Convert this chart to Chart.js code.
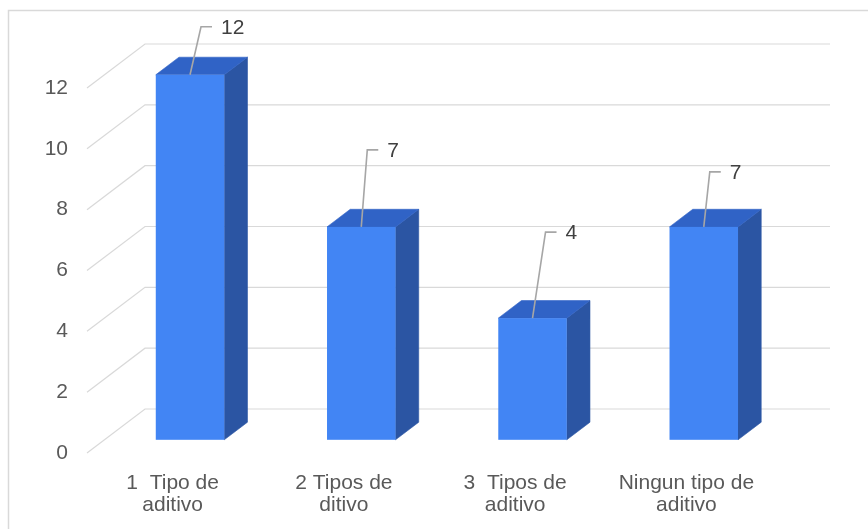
<!DOCTYPE html>
<html><head><meta charset="utf-8">
<script src="https://cdn.jsdelivr.net/npm/chart.js@4/dist/chart.umd.min.js"></script>
<style>html,body{margin:0;padding:0;background:#fff}canvas{display:block}</style>
</head><body><canvas id="c" width="868" height="529"></canvas>
<script>
const categories = [['1  Tipo de', 'aditivo'], ['2 Tipos de', 'ditivo'], ['3  Tipos de', 'aditivo'], ['Ningun tipo de', 'aditivo']];
const values = [12, 7, 4, 7];
const yTickStep = 2;
const yMax = 12;

const DEPTH = { x: 58, y: -44 };
const BAR_FRONT = 0.3, BAR_BACK = 0.7;
const calloutOffsets = [[11, -48], [6, -77], [13, -86], [6, -55]];
const FONT = 'Liberation Sans, Arial, sans-serif';

const plugin3d = {
  id: 'bar3d',
  beforeDraw(chart) {
    const ctx = chart.ctx;
    ctx.save();
    ctx.fillStyle = '#fff';
    ctx.fillRect(0, 0, chart.width, chart.height);
    ctx.strokeStyle = '#d9d9d9';
    ctx.lineWidth = 1.5;
    ctx.beginPath();
    ctx.moveTo(8.5, chart.height);
    ctx.lineTo(8.5, 10.5);
    ctx.lineTo(chart.width, 10.5);
    ctx.stroke();
    ctx.restore();
  },
  beforeDatasetsDraw(chart) {
    const { ctx, chartArea: a, scales: { y } } = chart;
    ctx.save();
    ctx.strokeStyle = '#d9d9d9';
    ctx.lineWidth = 1.2;
    y.ticks.forEach(t => {
      const py = y.getPixelForValue(t.value);
      ctx.beginPath();
      ctx.moveTo(a.left, py);
      ctx.lineTo(a.left + DEPTH.x, py + DEPTH.y);
      ctx.lineTo(a.right + DEPTH.x, py + DEPTH.y);
      ctx.stroke();
    });
    ctx.restore();
  },
  afterDatasetsDraw(chart) {
    const ctx = chart.ctx;
    const meta = chart.getDatasetMeta(0);
    const fx = DEPTH.x * BAR_FRONT, fy = DEPTH.y * BAR_FRONT;
    const dx = DEPTH.x * (BAR_BACK - BAR_FRONT), dy = DEPTH.y * (BAR_BACK - BAR_FRONT);
    ctx.save();
    meta.data.forEach((bar, i) => {
      const { x, y, base, width } = bar.getProps(['x', 'y', 'base', 'width'], true);
      const l = x - width / 2 + fx, r = x + width / 2 + fx, t = y + fy, b = base + fy;
      ctx.lineWidth = 0.6;
      ctx.fillStyle = ctx.strokeStyle = '#2b55a3';
      ctx.beginPath();
      ctx.moveTo(r, t); ctx.lineTo(r + dx, t + dy); ctx.lineTo(r + dx, b + dy); ctx.lineTo(r, b);
      ctx.closePath(); ctx.fill(); ctx.stroke();
      ctx.fillStyle = ctx.strokeStyle = '#3063c6';
      ctx.beginPath();
      ctx.moveTo(l, t); ctx.lineTo(l + dx, t + dy); ctx.lineTo(r + dx, t + dy); ctx.lineTo(r, t);
      ctx.closePath(); ctx.fill(); ctx.stroke();
      ctx.fillStyle = '#4285f4';
      ctx.fillRect(l, t, r - l, b - t);
    });
    meta.data.forEach((bar, i) => {
      const { x, y } = bar.getProps(['x', 'y'], true);
      const sx = x + fx, sy = y + fy;
      const ex = sx + calloutOffsets[i][0], ey = sy + calloutOffsets[i][1];
      ctx.strokeStyle = '#a6a6a6';
      ctx.lineWidth = 1.6;
      ctx.beginPath();
      ctx.moveTo(sx, sy); ctx.lineTo(ex, ey); ctx.lineTo(ex + 11, ey);
      ctx.stroke();
      ctx.fillStyle = '#404040';
      ctx.font = '21px ' + FONT;
      ctx.textAlign = 'left';
      ctx.textBaseline = 'middle';
      ctx.fillText(String(values[i]), ex + 20, ey + 1);
    });
    ctx.restore();
  }
};

new Chart(document.getElementById('c'), {
  type: 'bar',
  data: {
    labels: categories,
    datasets: [{
      data: values,
      backgroundColor: 'rgba(0,0,0,0)',
      borderWidth: 0,
      barPercentage: 0.4,
      categoryPercentage: 1
    }]
  },
  options: {
    responsive: false,
    animation: false,
    devicePixelRatio: 1,
    layout: { padding: { top: 88, right: 96, left: 0, bottom: 0 } },
    plugins: { legend: { display: false }, tooltip: { enabled: false } },
    scales: {
      x: {
        grid: { display: false },
        border: { display: false },
        ticks: { color: '#595959', font: { family: FONT, size: 21, lineHeight: 1.05 }, padding: 11, maxRotation: 0, autoSkip: false },
        afterFit(s) { s.height = 76; }
      },
      y: {
        min: 0, max: yMax,
        grid: { display: false },
        border: { display: false },
        ticks: { stepSize: yTickStep, color: '#595959', font: { family: FONT, size: 21 }, padding: 11 },
        afterFit(s) { s.width = 87; }
      }
    }
  },
  plugins: [plugin3d]
});
</script>
</body></html>
